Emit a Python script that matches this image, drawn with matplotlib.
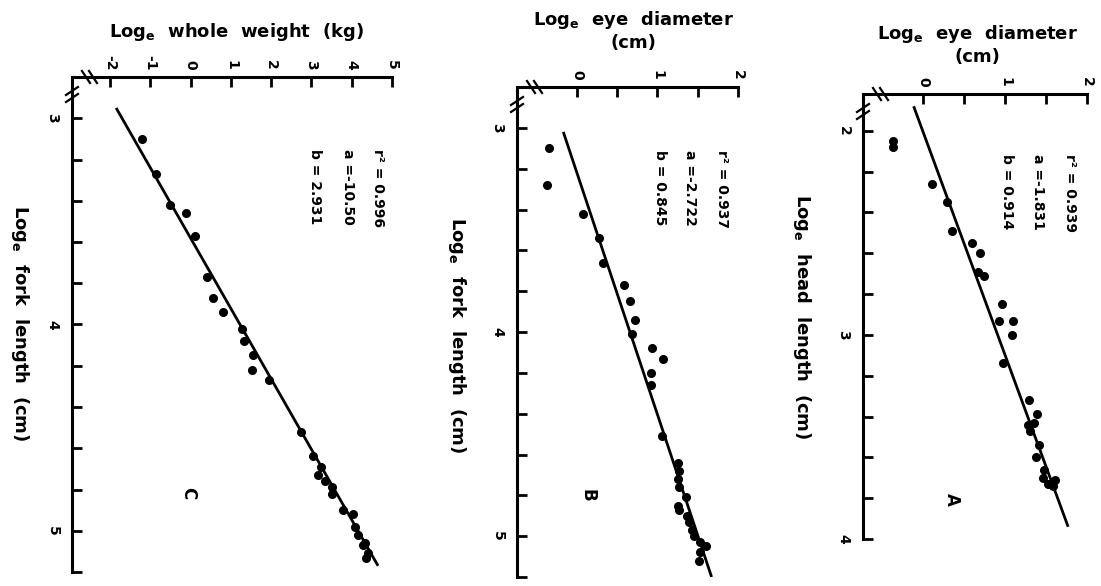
import numpy as np
import matplotlib.pyplot as plt

plt.rcParams['font.family'] = ['DejaVu Sans']
plt.rcParams['font.weight'] = 'bold'
plt.rcParams['mathtext.default'] = 'bf'

# C: log fork length vs log whole weight
fork_c = [3.10, 3.27, 3.42, 3.46, 3.57, 3.77, 3.87, 3.94, 4.02, 4.08, 4.15, 4.22, 4.27, 4.52,
          4.64, 4.69, 4.73, 4.76, 4.79, 4.82, 4.90, 4.92, 4.98, 5.02, 5.06, 5.07, 5.11, 5.13]
weight_c = [-1.21, -0.87, -0.51, -0.11, 0.10, 0.40, 0.56, 0.80, 1.28, 1.32, 1.55, 1.53, 1.94, 2.75,
            3.03, 3.24, 3.15, 3.34, 3.50, 3.52, 3.79, 4.04, 4.08, 4.16, 4.33, 4.28, 4.41, 4.36]

# B: log fork length vs log eye diameter
fork_b = [3.10, 3.28, 3.42, 3.54, 3.66, 3.77, 3.85, 3.94, 4.01, 4.08, 4.13, 4.20, 4.26, 4.51, 4.64,
          4.68, 4.72, 4.76, 4.81, 4.85, 4.87, 4.90, 4.93, 4.97, 5.00, 5.03, 5.05, 5.08, 5.12]
eye_b = [-0.35, -0.37, 0.07, 0.27, 0.32, 0.59, 0.66, 0.72, 0.68, 0.93, 1.07, 0.92, 0.92, 1.06, 1.26,
         1.27, 1.25, 1.27, 1.35, 1.26, 1.27, 1.37, 1.39, 1.43, 1.45, 1.53, 1.60, 1.53, 1.51]

# A: log head length vs log eye diameter
head_a = [2.05, 2.08, 2.26, 2.35, 2.49, 2.55, 2.60, 2.69, 2.71, 2.85, 2.93, 2.93, 3.00,
          3.14, 3.32, 3.39, 3.44, 3.43, 3.47, 3.54, 3.60, 3.66, 3.70, 3.73, 3.71, 3.74]
eye_a = [-0.36, -0.36, 0.11, 0.29, 0.36, 0.60, 0.70, 0.67, 0.74, 0.97, 0.93, 1.10, 1.09,
         0.98, 1.29, 1.39, 1.28, 1.36, 1.30, 1.41, 1.38, 1.48, 1.46, 1.52, 1.61, 1.59]

# regression stats: r2, a, b  and the x span of the fitted line
panels = ['C', 'B', 'A']
r2_vals = ['0.996', '0.937', '0.939']
a_vals = [-10.50, -2.722, -1.831]
b_vals = [2.931, 0.845, 0.914]
fit_span = [(2.95, 5.17), (3.02, 5.20), (1.88, 3.94)]

W, H = 1101, 586
fig = plt.figure(figsize=(W / 100, H / 100), dpi=100)


def make_axes(box, xlim, ylim, xmajor, xminor, ymajor, yminor):
    l, t, w, h = box
    ax = fig.add_axes([l / W, 1 - (t + h) / H, w / W, h / H])
    ax.set_xlim(*xlim)
    ax.set_ylim(ylim[1], ylim[0])   # fork length runs downward
    for s in ('right', 'bottom'):
        ax.spines[s].set_visible(False)
    for s in ('top', 'left'):
        ax.spines[s].set_linewidth(2.2)
    ax.xaxis.tick_top()
    ax.set_xticks(xmajor)
    ax.set_xticklabels([('%g' % v) for v in xmajor])
    ax.set_xticks(xminor, minor=True)
    ax.set_yticks(ymajor)
    ax.set_yticklabels([('%g' % v) for v in ymajor])
    ax.set_yticks(yminor, minor=True)
    ax.tick_params(axis='x', which='both', direction='in', length=7, width=2,
                   pad=5, labelsize=10, labelrotation=270)
    ax.tick_params(axis='y', which='both', direction='in', length=7, width=2,
                   pad=9, labelsize=10, labelrotation=270)
    for lab in ax.get_yticklabels():
        lab.set_va('center')
    # axis break marks near the corner
    for d in (14, 21):
        ax.plot([(d - 4) / w, (d + 4) / w], [1 + 6 / h, 1 - 6 / h], transform=ax.transAxes,
                color='k', lw=1.6, clip_on=False)
        ax.plot([-6 / w, 6 / w], [1 - (d + 4) / h, 1 - (d - 4) / h], transform=ax.transAxes,
                color='k', lw=1.6, clip_on=False)
    return ax


def add_fit(ax, i, fork, resp):
    ax.plot(resp, fork, 'o', color='k', ms=5.5, clip_on=False)
    xs = np.array(fit_span[i])
    ax.plot(a_vals[i] + b_vals[i] * xs, xs, color='k', lw=2, solid_capstyle='butt')


def add_stats(ax, i, xs, y0):
    lines = ['r² = ' + r2_vals[i], 'a =%g' % a_vals[i] if a_vals[i] < 0 else 'a = %g' % a_vals[i],
             'b = ' + ('%.3f' % b_vals[i])]
    if panels[i] == 'C':
        lines[1] = 'a =-10.50'
    for x, txt in zip(xs, lines):
        ax.text(x, y0, txt, transform=ax.transAxes, rotation=270, rotation_mode='anchor',
                ha='left', va='center', fontsize=10)


label_fork = 'Log$_e$  fork  length  (cm)'
label_eye = 'Log$_e$  eye  diameter\n(cm)'

# panel C
ax_c = make_axes((72, 77, 320, 495), (-2.95, 5.0), (2.81, 5.2),
                 np.arange(-2, 6), [], [3, 4, 5], np.arange(2.8, 5.21, 0.2))
add_fit(ax_c, 0, fork_c, weight_c)
add_stats(ax_c, 0, [0.956, 0.8625, 0.759], 0.855)
ax_c.text(0.5125, 1.091, 'Log$_e$  whole  weight  (kg)', transform=ax_c.transAxes,
          ha='center', va='center', fontsize=13)
ax_c.text(-0.1625, 0.503, label_fork, transform=ax_c.transAxes, rotation=270,
          ha='center', va='center', fontsize=13)
ax_c.text(0.3625, 0.160, 'C', transform=ax_c.transAxes, rotation=270,
          ha='center', va='center', fontsize=12)

# panel B
ax_b = make_axes((517, 87, 221, 490), (-0.745, 2.0), (2.82, 5.2),
                 [0, 1, 2], [0.5, 1.5], [3, 4, 5], np.arange(2.8, 5.21, 0.2))
add_fit(ax_b, 1, fork_b, eye_b)
add_stats(ax_b, 1, [0.928, 0.783, 0.647], 0.871)
ax_b.text(0.525, 1.116, label_eye, transform=ax_b.transAxes, ha='center', va='center',
          multialignment='center', fontsize=13)
ax_b.text(-0.271, 0.494, label_fork, transform=ax_b.transAxes, rotation=270,
          ha='center', va='center', fontsize=13)
ax_b.text(0.321, 0.167, 'B', transform=ax_b.transAxes, rotation=270,
          ha='center', va='center', fontsize=12)

# panel A
ax_a = make_axes((863, 94, 224, 445), (-0.73, 2.0), (1.82, 4.0),
                 [0, 1, 2], [0.5, 1.5], [2, 3, 4], np.arange(2.0, 4.01, 0.2))
add_fit(ax_a, 2, head_a, eye_a)
add_stats(ax_a, 2, [0.924, 0.781, 0.643], 0.865)
ax_a.text(0.513, 1.112, label_eye, transform=ax_a.transAxes, ha='center', va='center',
          multialignment='center', fontsize=13)
ax_a.text(-0.272, 0.499, 'Log$_e$  head  length  (cm)', transform=ax_a.transAxes, rotation=270,
          ha='center', va='center', fontsize=13)
ax_a.text(0.397, 0.088, 'A', transform=ax_a.transAxes, rotation=270,
          ha='center', va='center', fontsize=12)

fig.savefig('out.png', dpi=100)
